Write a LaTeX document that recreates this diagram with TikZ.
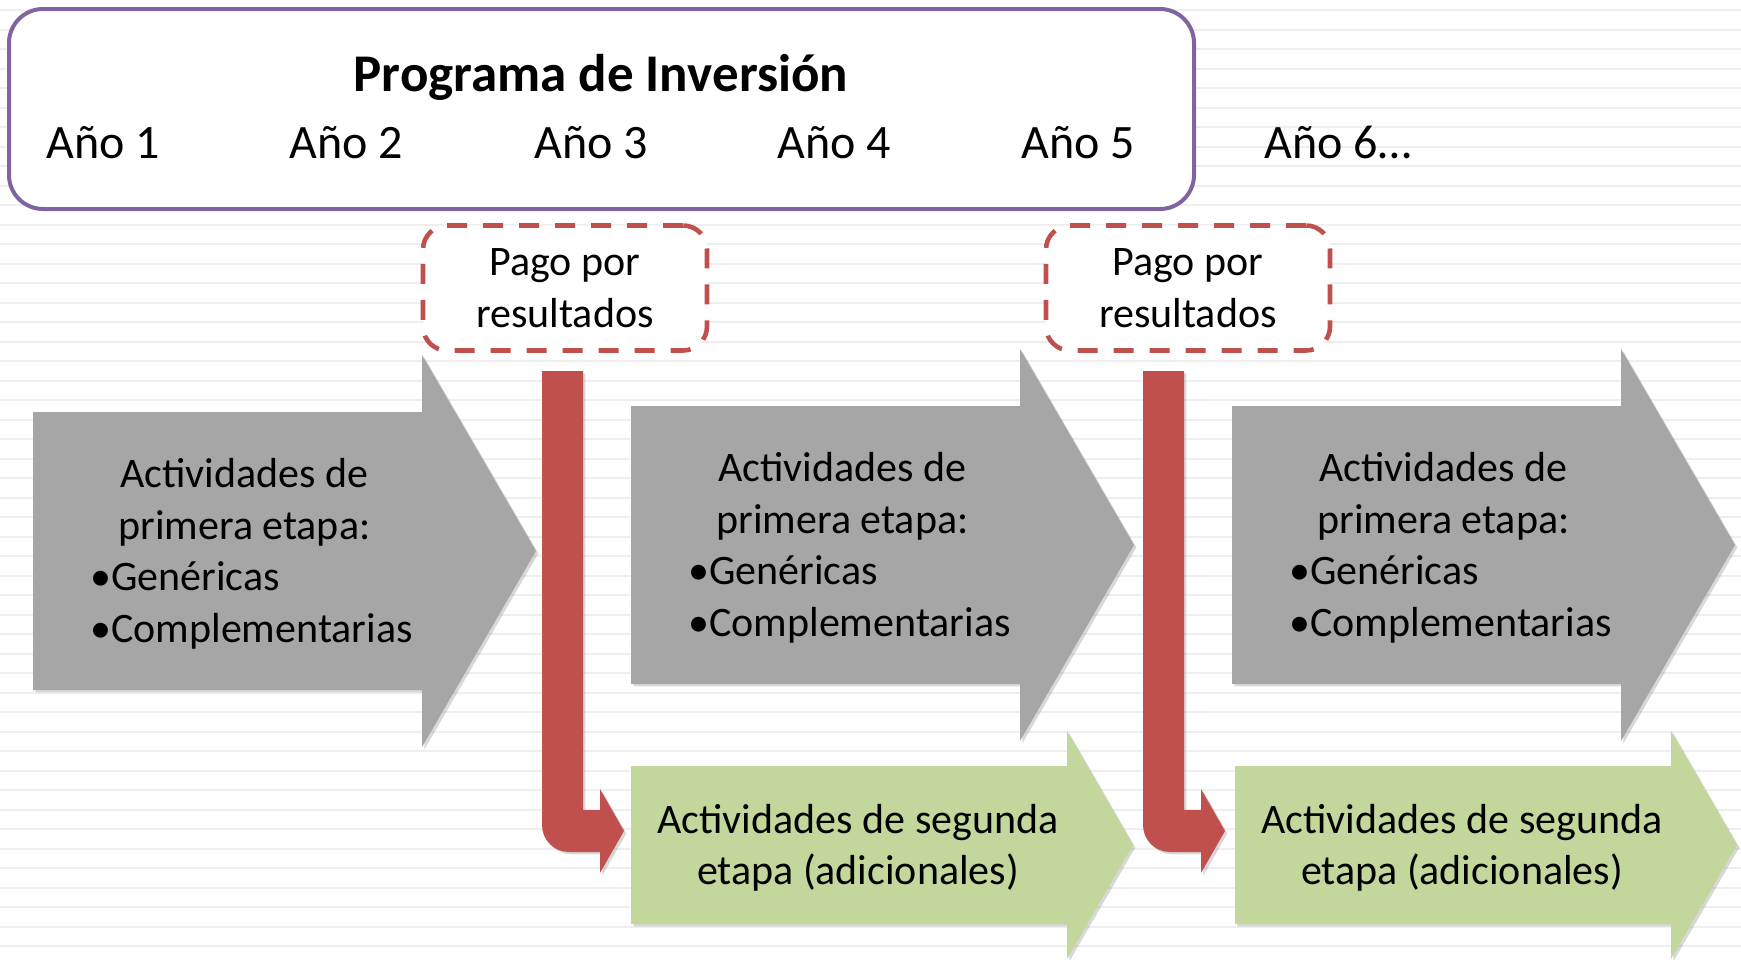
\documentclass[tikz,border=0pt]{standalone}
\usepackage{fontspec}
\setmainfont{Carlito}
\usetikzlibrary{shadows}

\definecolor{marcolila}{RGB}{128,100,162}
\definecolor{pagorojo}{RGB}{192,80,77}
\definecolor{etapagris}{RGB}{166,166,166}
\definecolor{etapaverde}{RGB}{195,214,155}
\definecolor{rayas}{RGB}{238,238,238}

\tikzset{
	sombra/.style={drop shadow={shadow xshift=1.2pt, shadow yshift=-1.2pt, opacity=0.3}},
	texto/.style={font=\fontsize{21}{25.75}\selectfont},
	anio/.style={font=\fontsize{24}{28}\selectfont, anchor=base},
	pagobox/.style={draw=pagorojo, line width=2.3pt, dash pattern=on 10pt off 8pt, rounded corners=12pt, fill=white, minimum width=142pt, minimum height=62.5pt, align=center, texto},
}

\begin{document}
\begin{tikzpicture}[x=0.5pt, y=-0.5pt]
	\useasboundingbox (0,0) rectangle (1741,959);
	
	% Fondo rayado
	\fill[white] (0,0) rectangle (1741,959);
	\foreach \k in {0,...,48}
		\draw[rayas, line width=1pt] (0,10.2+19.5*\k) -- (1741,10.2+19.5*\k);
	
	% Programa de Inversion + Anios
	\draw[marcolila, line width=2pt, rounded corners=17pt, fill=white] (9,9) rectangle (1194,209);
	\node[font=\fontsize{26.5}{30}\selectfont\bfseries, anchor=base] (titulo) at (601,91) {Programa de Inversión};
	\foreach \n/\x in {1/103, 2/346, 3/591, 4/834, 5/1078}
		\node[anio] (anio\n) at (\x,158) {Año \n};
	\node[anio] (anio6) at (1338,158) {Año 6…};
	
	% Actividades de primera etapa (gris)
	\foreach \L/\C [count=\i] in {33/551, 631/545, 1232/545}{
		\fill[etapagris, sombra] (\L,\C-139) -- (\L+389,\C-139) -- (\L+389,\C-196) -- (\L+503,\C) -- (\L+389,\C+196) -- (\L+389,\C+139) -- (\L,\C+139) -- cycle;
		\node[texto, align=left, anchor=west, inner sep=0pt] (primera\i) at (\L+57,\C+3) {\makebox[154pt][c]{Actividades de}\\\makebox[154pt][c]{primera etapa:}\\•Genéricas\\•Complementarias};
	}
	
	% Actividades de segunda etapa (verde)
	\foreach \L [count=\i] in {631, 1235}{
		\fill[etapaverde, sombra] (\L,766) -- (\L+436,766) -- (\L+436,731) -- (\L+502,845) -- (\L+436,959) -- (\L+436,924) -- (\L,924) -- cycle;
		\node[texto, align=center] (segunda\i) at (\L+227,848) {Actividades de segunda\\etapa (adicionales)};
	}
	
	% Pago por resultados
	\foreach \x [count=\i] in {565, 1188}
		\node[pagobox] (pago\i) at (\x,288) {Pago por\\resultados};
	
	% Flechas rojas hacia la segunda etapa
	\foreach \X in {542, 1143}
		\fill[pagorojo, sombra] (\X,371) -- (\X+41,371) -- (\X+41,810) -- (\X+58,810) -- (\X+58,789) -- (\X+82,831) -- (\X+58,873) -- (\X+58,852) -- (\X+27,852) .. controls (\X+12,852) and (\X,840) .. (\X,825) -- cycle;
\end{tikzpicture}
\end{document}
